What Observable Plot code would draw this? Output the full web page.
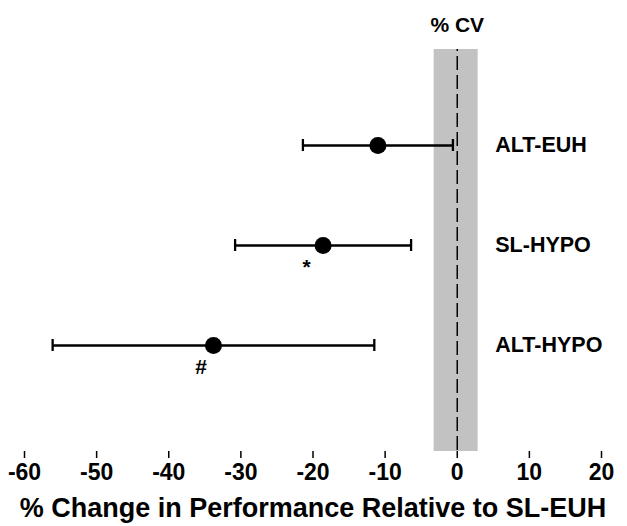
<!DOCTYPE html>
<html>
<head>
<meta charset="utf-8">
<script src="https://cdn.jsdelivr.net/npm/d3@7"></script>
<script src="https://cdn.jsdelivr.net/npm/@observablehq/plot@0.6"></script>
<style>
  html, body { margin: 0; padding: 0; background: #fff; }
  #chart svg { display: block; }
</style>
</head>
<body>
<div id="chart"></div>
<script>
const groups = ["ALT-EUH", "SL-HYPO", "ALT-HYPO"];
const means = [-11.0, -18.6, -33.8];
const lower = [-21.4, -30.8, -56.1];
const upper = [-0.6, -6.4, -11.5];
const marks = ["", "*", "#"];
const markX = [null, -20.9, -35.5];
const cvLow = -3.2;
const cvHigh = 2.9;
const xTicks = [-60, -50, -40, -30, -20, -10, 0, 10, 20];
const cvLabel = "% CV";
const xTitle = "% Change in Performance Relative to SL-EUH";

const rows = groups.map((g, i) => ({group: g, mean: means[i], lo: lower[i], hi: upper[i], mark: marks[i], markX: markX[i]}));
const annot = rows.filter(d => d.mark);
const font = "Liberation Sans, Arial, sans-serif";

const chart = Plot.plot({
  width: 627,
  height: 526,
  marginLeft: 24,
  marginRight: 26,
  marginTop: 49,
  marginBottom: 75,
  style: {fontFamily: font, fontWeight: "bold", background: "#fff", color: "#000"},
  x: {domain: [-60, 20], ticks: xTicks},
  y: {type: "band", domain: groups, paddingInner: 0, paddingOuter: 0.491, align: 0.45, axis: null},
  marks: [
    Plot.rect([{lo: cvLow, hi: cvHigh}], {x1: "lo", x2: "hi", fill: "#c2c2c2"}),
    Plot.ruleX([0], {stroke: "#000", strokeWidth: 1.5, strokeDasharray: "14,5", strokeDashoffset: 12}),
    Plot.axisX({ticks: xTicks, tickSize: 7, tickPadding: 5, fontSize: 23, tickFormat: d => String(d), label: null, strokeWidth: 1.5}),
    Plot.ruleY(rows, {y: "group", x1: "lo", x2: "hi", stroke: "#000", strokeWidth: 2.3}),
    Plot.tickX(rows, {x: "lo", y: "group", stroke: "#000", strokeWidth: 2.3, insetTop: 44, insetBottom: 44}),
    Plot.tickX(rows, {x: "hi", y: "group", stroke: "#000", strokeWidth: 2.3, insetTop: 44, insetBottom: 44}),
    Plot.dot(rows, {x: "mean", y: "group", r: 8.5, fill: "#000", stroke: "none"}),
    Plot.text(annot, {x: "markX", y: "group", text: "mark", dy: 22, fontSize: 21, fontWeight: "bold", fill: "#000"}),
    Plot.text(rows, {x: 0, y: "group", text: "group", dx: 38, textAnchor: "start", fontSize: 21.5, fontWeight: "bold", fill: "#000"}),
    Plot.text([cvLabel], {x: 0, frameAnchor: "top", text: d => d, dy: -32, fontSize: 21, fontWeight: "bold", fill: "#000"}),
    Plot.text([xTitle], {frameAnchor: "bottom", text: d => d, dy: 65, fontSize: 27, fontWeight: "bold", fill: "#000"})
  ]
});
document.getElementById("chart").appendChild(chart);
</script>
</body>
</html>
